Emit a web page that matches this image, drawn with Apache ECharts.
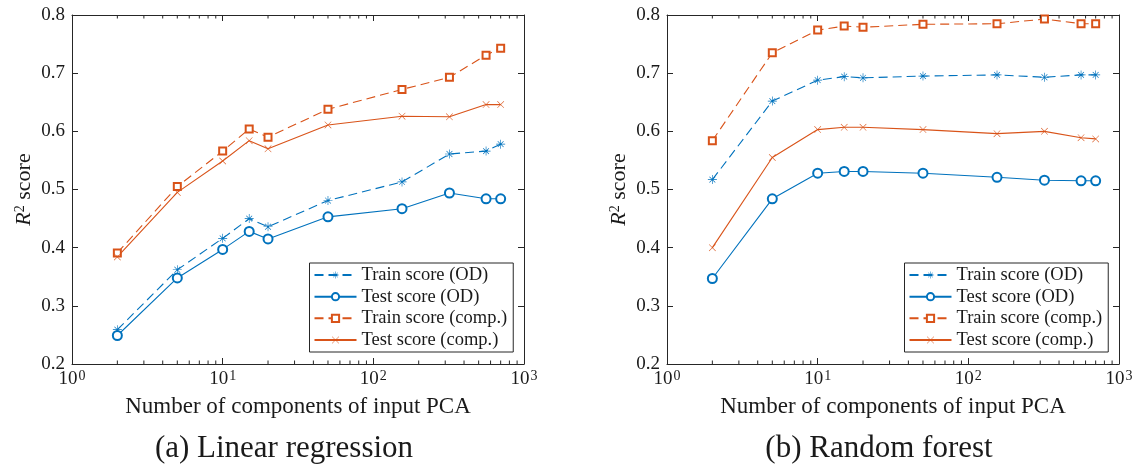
<!DOCTYPE html>
<html>
<head>
<meta charset="utf-8">
<script src="https://cdn.jsdelivr.net/npm/echarts@6/dist/echarts.min.js"></script>
<style>
html,body{margin:0;padding:0;background:#fff;}
#chart{width:1139px;height:474px;}
</style>
</head>
<body>
<div id="chart"></div>
<script>
// ---------- data ----------
const components = [2, 5, 10, 15, 20, 50, 155, 320, 560, 700];

// (a) Linear regression
const lrTrainOD   = [0.259, 0.362, 0.416, 0.450, 0.436, 0.481, 0.513, 0.561, 0.566, 0.578];
const lrTestOD    = [0.249, 0.348, 0.397, 0.428, 0.415, 0.453, 0.467, 0.494, 0.484, 0.484];
const lrTrainComp = [0.391, 0.505, 0.566, 0.604, 0.590, 0.638, 0.672, 0.693, 0.731, 0.743];
const lrTestComp  = [0.384, 0.495, 0.549, 0.584, 0.570, 0.611, 0.626, 0.625, 0.646, 0.646];

// (b) Random forest
const rfTrainOD   = [0.517, 0.652, 0.688, 0.694, 0.692, 0.695, 0.697, 0.693, 0.697, 0.697];
const rfTestOD    = [0.347, 0.484, 0.528, 0.531, 0.531, 0.528, 0.521, 0.516, 0.515, 0.515];
const rfTrainComp = [0.584, 0.735, 0.774, 0.781, 0.779, 0.784, 0.785, 0.793, 0.785, 0.785];
const rfTestComp  = [0.400, 0.555, 0.603, 0.607, 0.607, 0.603, 0.596, 0.600, 0.589, 0.587];

const seriesNames = ['Train score (OD)', 'Test score (OD)', 'Train score (comp.)', 'Test score (comp.)'];
const captions = ['(a) Linear regression', '(b) Random forest'];
const xTitle = 'Number of components of input PCA';
const minorTickValues = [2,3,4,5,6,7,8,9,20,30,40,50,60,70,80,90,200,300,400,500,600,700,800,900];

// ---------- style ----------
const BLUE = '#0072BD', ORANGE = '#D95319', AX = '#262626', TXT = '#1a1a1a';
const FONT = '"Liberation Serif", "Times New Roman", serif';
const YMIN = 0.2, YMAX = 0.8;

const STAR = 'path://M0,9.3 L20,9.3 L20,10.7 L0,10.7 Z M9.3,0 L10.7,0 L10.7,20 L9.3,20 Z M3,4 L4,3 L17,16 L16,17 Z M16,3 L17,4 L4,17 L3,16 Z';
const CROSS = 'path://M0,1.1 L1.1,0 L20,18.9 L18.9,20 Z M18.9,0 L20,1.1 L1.1,20 L0,18.9 Z';

const grids = [
  {left: 72, right: 615, top: 15, bottom: 110},
  {left: 667, right: 20, top: 15, bottom: 110}
];

function pairs(arr){ return components.map((x, i) => [x, arr[i]]); }

function xLabelFmt(v){
  const e = Math.round(Math.log10(v));
  return '{b|10}{s|' + e + '}';
}
const xLabelRich = {
  b: {fontFamily: FONT, fontSize: 19, color: TXT, lineHeight: 20},
  s: {fontFamily: FONT, fontSize: 14, color: TXT, lineHeight: 14, verticalAlign: 'top', padding: [0, 0, 0, 1]}
};

const xAxes = [], yAxes = [];
grids.forEach((g, gi) => {
  xAxes.push({
    type: 'log', logBase: 10, gridIndex: gi, min: 1, max: 1000, position: 'bottom',
    axisLine: {show: true, lineStyle: {color: AX, width: 1}},
    axisTick: {show: true, inside: true, length: 6, lineStyle: {color: AX}},
    axisLabel: {show: true, formatter: xLabelFmt, rich: xLabelRich, margin: 5},
    splitLine: {show: false},
    name: xTitle, nameLocation: 'middle', nameGap: 31,
    nameTextStyle: {fontFamily: FONT, fontSize: 23, color: TXT}
  });
  xAxes.push({
    type: 'log', logBase: 10, gridIndex: gi, min: 1, max: 1000, position: 'top',
    axisLine: {show: true, lineStyle: {color: AX, width: 1}},
    axisTick: {show: true, inside: true, length: 6, lineStyle: {color: AX}},
    axisLabel: {show: false}, splitLine: {show: false}
  });
  yAxes.push({
    type: 'value', gridIndex: gi, min: YMIN, max: YMAX, interval: 0.1, position: 'left',
    axisLine: {show: true, lineStyle: {color: AX, width: 1}},
    axisTick: {show: true, inside: true, length: 6, lineStyle: {color: AX}},
    axisLabel: {show: true, formatter: v => v.toFixed(1), fontFamily: FONT, fontSize: 19, color: TXT, margin: 7},
    splitLine: {show: false},
    name: '{i|R}{s|2}{n| score}', nameLocation: 'middle', nameGap: 37, nameRotate: 90,
    nameTextStyle: {
      fontFamily: FONT, fontSize: 22, color: TXT,
      rich: {
        i: {fontFamily: FONT, fontSize: 22, fontStyle: 'italic', color: TXT, lineHeight: 22},
        s: {fontFamily: FONT, fontSize: 14, color: TXT, lineHeight: 14, verticalAlign: 'top'},
        n: {fontFamily: FONT, fontSize: 22, color: TXT, lineHeight: 22}
      }
    }
  });
  yAxes.push({
    type: 'value', gridIndex: gi, min: YMIN, max: YMAX, interval: 0.1, position: 'right',
    axisLine: {show: true, lineStyle: {color: AX, width: 1}},
    axisTick: {show: true, inside: true, length: 6, lineStyle: {color: AX}},
    axisLabel: {show: false}, splitLine: {show: false}
  });
});

function lineSeries(name, data, gi, color, dashed, symbol, size){
  return {
    name: name, type: 'line', xAxisIndex: gi * 2, yAxisIndex: gi * 2,
    data: pairs(data), symbol: symbol, symbolSize: size, symbolKeepAspect: true,
    showAllSymbol: true, z: 3,
    lineStyle: {color: color, width: 1.1, type: dashed ? [9, 5] : 'solid'},
    itemStyle: {color: color, borderColor: color, borderWidth: (symbol.indexOf('path') === 0) ? 0 : 1},
    emphasis: {disabled: true}, animation: false
  };
}

function minorSeries(gi){
  return {
    type: 'custom', xAxisIndex: gi * 2, yAxisIndex: gi * 2, silent: true, z: 5,
    data: minorTickValues.map(v => [v, YMIN]), clip: false, animation: false,
    renderItem: function(params, api){
      const v = api.value(0);
      const pb = api.coord([v, YMIN]);
      const pt = api.coord([v, YMAX]);
      return {type: 'group', children: [
        {type: 'line', shape: {x1: pb[0], y1: pb[1], x2: pb[0], y2: pb[1] - 3.5}, style: {stroke: AX, lineWidth: 1}},
        {type: 'line', shape: {x1: pt[0], y1: pt[1], x2: pt[0], y2: pt[1] + 3.5}, style: {stroke: AX, lineWidth: 1}}
      ]};
    }
  };
}

const datasets = [
  [lrTrainOD, lrTestOD, lrTrainComp, lrTestComp],
  [rfTrainOD, rfTestOD, rfTrainComp, rfTestComp]
];
const series = [];
datasets.forEach((ds, gi) => {
  series.push(lineSeries(seriesNames[0], ds[0], gi, BLUE, true, STAR, 9));
  series.push(lineSeries(seriesNames[1], ds[1], gi, BLUE, false, 'emptyCircle', 9));
  series.push(lineSeries(seriesNames[2], ds[2], gi, ORANGE, true, 'emptyRect', 7));
  series.push(lineSeries(seriesNames[3], ds[3], gi, ORANGE, false, CROSS, 7));
  series.push(minorSeries(gi));
});

function legendAt(left){
  return {
    left: left, top: 263, orient: 'vertical', itemWidth: 42, itemHeight: 9, itemGap: 2.67,
    padding: [2.5, 6, 2.5, 4], borderColor: AX, borderWidth: 1, backgroundColor: '#fff',
    selectedMode: false,
    textStyle: {fontFamily: FONT, fontSize: 18.5, color: TXT, lineHeight: 19},
    data: seriesNames
  };
}

const option = {
  backgroundColor: '#fff',
  animation: false,
  grid: grids,
  xAxis: xAxes,
  yAxis: yAxes,
  legend: [legendAt(309.5), legendAt(904.5)],
  series: series,
  graphic: [
    {type: 'text', x: 284, y: 449, style: {text: captions[0], font: '31px ' + FONT, fill: TXT, textAlign: 'center', textVerticalAlign: 'middle'}},
    {type: 'text', x: 879, y: 449, style: {text: captions[1], font: '31px ' + FONT, fill: TXT, textAlign: 'center', textVerticalAlign: 'middle'}}
  ]
};

const chart = echarts.init(document.getElementById('chart'), null, {renderer: 'canvas'});
chart.setOption(option);
</script>
</body>
</html>
